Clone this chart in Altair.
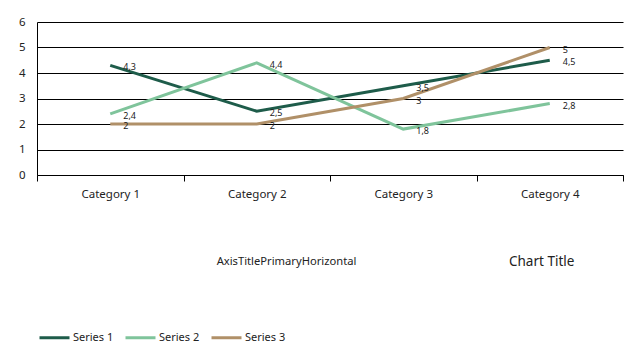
import altair as alt
import pandas as pd

categories = ["Category 1", "Category 2", "Category 3", "Category 4"]
series_names = ["Series 1", "Series 2", "Series 3"]
series1 = [4.3, 2.5, 3.5, 4.5]
series2 = [2.4, 4.4, 1.8, 2.8]
series3 = [2.0, 2.0, 3.0, 5.0]
y_ticks = [0, 1, 2, 3, 4, 5, 6]
colors = ["#1e5c4a", "#7fc49b", "#b09068"]

rows = []
for name, vals in zip(series_names, [series1, series2, series3]):
    for c, v in zip(categories, vals):
        rows.append({"category": c, "series": name, "value": v,
                     "label": (f"{v:g}").replace(".", ",")})
df = pd.DataFrame(rows)

FONT = "Noto Sans"

x = alt.X("category:N", sort=categories,
          scale=alt.Scale(paddingInner=0, paddingOuter=0),
          axis=alt.Axis(title="AxisTitlePrimaryHorizontal", labelAngle=0,
                        tickBand="extent", tickSize=6, tickColor="black",
                        domainColor="black", labelPadding=7,
                        labelFontSize=11.5, labelFont=FONT, labelColor="#222222",
                        titleX=249, titleY=86, titleAnchor="start",
                        titleAlign="center", titleBaseline="middle",
                        titleFont=FONT, titleColor="#222222",
                        titleFontWeight="normal", titleFontSize=11.2))
y = alt.Y("value:Q", scale=alt.Scale(domain=[0, 6], nice=False),
          axis=alt.Axis(title=None, values=y_ticks,
                        labelOverlap=False,
                        grid=True, gridColor="black", gridOpacity=1,
                        ticks=False, domain=True, domainColor="black",
                        labelPadding=12, labelFontSize=11.5,
                        labelFont=FONT, labelColor="#222222"))
color = alt.Color("series:N", sort=series_names,
                  scale=alt.Scale(domain=series_names, range=colors),
                  legend=alt.Legend(title=None, orient="none", legendX=1,
                                    legendY=299, direction="horizontal",
                                    symbolType="stroke", symbolSize=900,
                                    symbolStrokeWidth=3, labelOffset=2,
                                    columnPadding=5, labelFontSize=11,
                                    labelFont=FONT, labelColor="#222222"))

lines = alt.Chart(df).mark_line(strokeWidth=3).encode(
    x=x, y=y, color=color, detail="series:N")
labels = alt.Chart(df).mark_text(align="left", baseline="middle", dx=13, dy=2,
                                 fontSize=9, font=FONT, color="#222222").encode(
    x=alt.X("category:N", sort=categories, axis=None),
    y=alt.Y("value:Q", axis=None), text="label:N")

chart = alt.layer(lines, labels).resolve_axis(
    x="independent", y="independent"
).properties(
    width=586, height=153,
    background="white",
    title=alt.TitleParams(text="Chart Title", anchor="start", frame="group",
                          orient="top", offset=0, dx=472, dy=259,
                          baseline="middle", fontSize=13.5, fontWeight="normal",
                          font=FONT, color="#222222"),
    autosize=alt.AutoSizeParams(type="none"),
    padding={"left": 37, "top": 22, "right": 2, "bottom": 182},
).configure_view(stroke=None)

chart.save("out.html", embed_options={"renderer": "svg", "actions": False})
